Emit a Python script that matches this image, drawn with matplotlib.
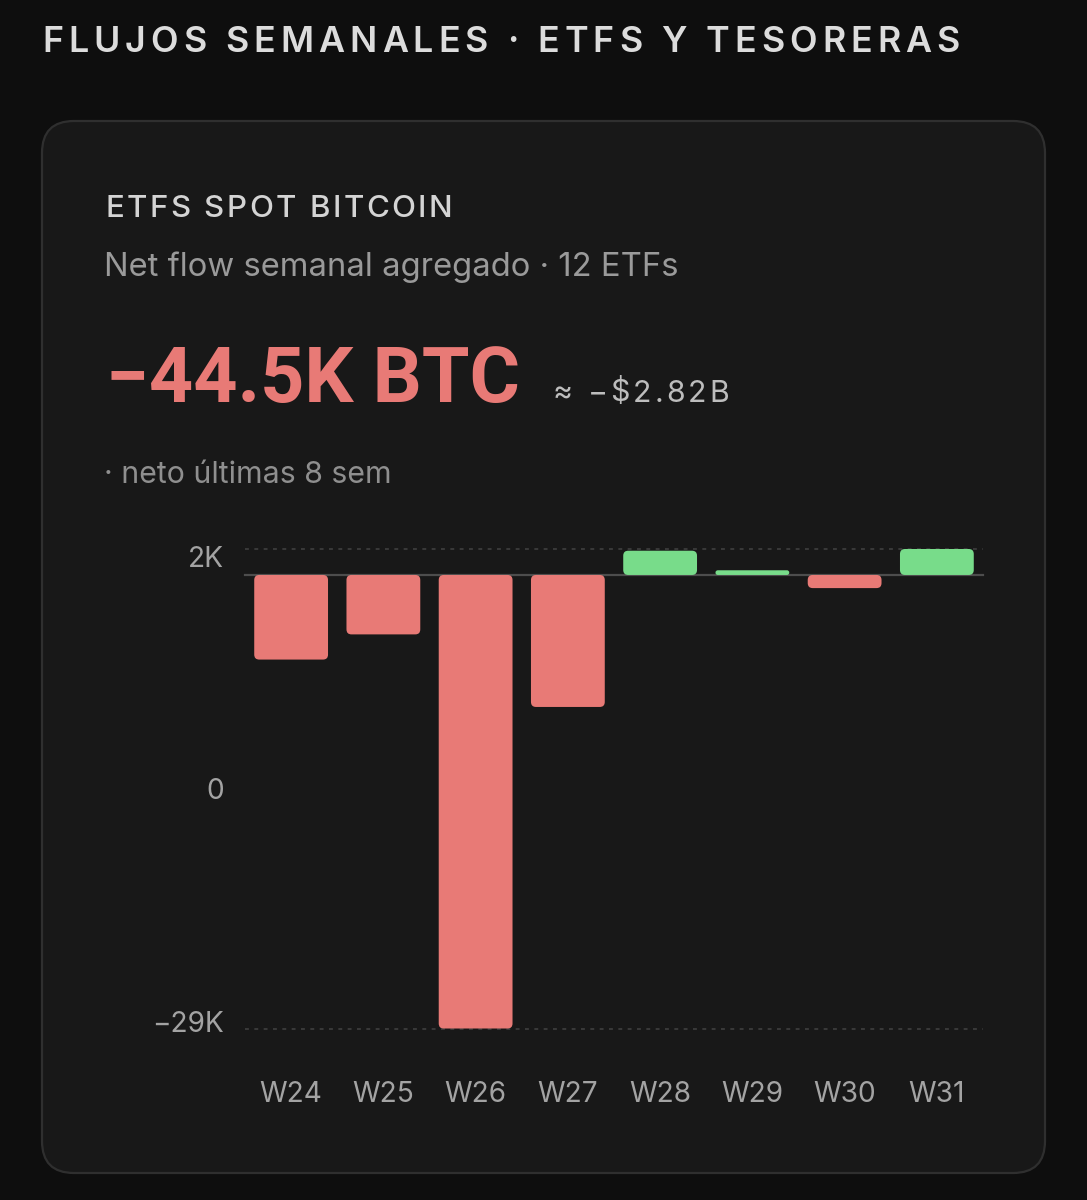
import matplotlib
matplotlib.use("Agg")
import matplotlib.pyplot as plt
from matplotlib.patches import FancyBboxPatch
from matplotlib.font_manager import FontProperties, findfont, get_font

# ---------------- data ----------------
weeks = ["W24", "W25", "W26", "W27", "W28", "W29", "W30", "W31"]
net_flow_k = [-5.41, -3.80, -29.0, -8.44, 1.55, 0.30, -0.84, 1.66]
ytick_labels = ["2K", "0", "\u221229K"]

title = "FLUJOS SEMANALES \u00b7 ETFS Y TESORERAS"
card_title = "ETFS SPOT BITCOIN"
subtitle = "Net flow semanal agregado \u00b7 12 ETFs"
headline = "\u221244.5K BTC"
headline_usd = "\u2248 \u2212$2.82B"
footnote = "\u00b7 neto \u00faltimas 8 sem"

# ---------------- style ----------------
W, H = 1087, 1200
DPI = 100
BG = "#0e0e0e"
CARD = "#181818"
CARD_EDGE = "#2f2f2f"
RED = "#e87a76"
GREEN = "#78dc8a"
FONT = ["Inter", "Roboto", "DejaVu Sans"]
plt.rcParams["font.family"] = FONT

fig = plt.figure(figsize=(W / DPI, H / DPI), dpi=DPI)
fig.patch.set_facecolor(BG)

# pixel-space background axes (1 data unit = 1 pixel, y downwards)
bg = fig.add_axes([0, 0, 1, 1])
bg.set_xlim(0, W)
bg.set_ylim(H, 0)
bg.axis("off")
bg.set_zorder(0)


def tracked_text(ax, x, y, s, track_px, size, weight="normal", family=FONT, **kw):
    """Draw text with extra letter spacing (tracking) in pixel coordinates."""
    prop = FontProperties(family=family, size=size, weight=weight)
    font = get_font(findfont(prop))
    font.set_size(size, DPI)
    cx = x
    for ch in s:
        ax.text(cx, y, ch, fontproperties=prop, ha="left", va="baseline", **kw)
        try:
            adv = font.load_char(ord(ch)).linearHoriAdvance / 65536.0
        except Exception:
            adv = size * DPI / 72.0 * 0.5
        cx += adv + track_px
    return cx


card = FancyBboxPatch((42, 121), 1003, 1052, boxstyle="round,pad=0,rounding_size=32",
                      facecolor=CARD, edgecolor=CARD_EDGE, linewidth=1.6)
bg.add_patch(card)

tracked_text(bg, 42, 52, title, 5.0, 25.8, weight="semibold", color="#dcdcdc")
tracked_text(bg, 105, 217, card_title, 2.5, 22.5, weight="medium", color="#d4d4d4")
bg.text(104, 276, subtitle, color="#9a9a9a", fontsize=23.6, ha="left", va="baseline")
bg.text(106, 402, headline, color=RED, fontsize=55.5, fontweight="bold",
        family=["Roboto", "DejaVu Sans"], ha="left", va="baseline")
tracked_text(bg, 553, 401.5, headline_usd, 3.0, 21.8, color="#bdbdbd")
bg.text(104, 483, footnote, color="#8f8f8f", fontsize=21.8, ha="left", va="baseline")

# ---------------- chart axes ----------------
ax_left, ax_right = 245, 983
ax_top, ax_bot = 549, 1028.5
ax = fig.add_axes([ax_left / W, 1 - ax_bot / H, (ax_right - ax_left) / W, (ax_bot - ax_top) / H])
ax.set_zorder(1)
ax.patch.set_alpha(0)
for s in ax.spines.values():
    s.set_visible(False)
ax.set_xticks([])
ax.set_yticks([])

n = len(weeks)
vmin, vmax = min(net_flow_k), max(net_flow_k)
ax.set_xlim(-0.5, n - 0.5)
ax.set_ylim(vmin, vmax)

px_per_x = (ax_right - ax_left) / n
px_per_y = (ax_bot - ax_top) / (vmax - vmin)
aspect = px_per_x / px_per_y

# gridlines
ax.axhline(vmax, color="#393939", lw=1.4, ls=(0, (2.0, 2.8)), zorder=1, clip_on=False)
ax.axhline(vmin, color="#393939", lw=1.4, ls=(0, (2.0, 2.8)), zorder=1, clip_on=False)
ax.axhline(0, color="#4d4d4d", lw=1.6, zorder=2, clip_on=False)

bar_w = 0.8
r_px = 5.0
for i, v in enumerate(net_flow_k):
    h = abs(v)
    y0 = min(0, v)
    h_px = h * px_per_y
    r = min(r_px, h_px / 2.0, bar_w * px_per_x / 2.0) / px_per_x
    p = FancyBboxPatch((i - bar_w / 2, y0), bar_w, h,
                       boxstyle=f"round,pad=0,rounding_size={r}",
                       mutation_aspect=aspect,
                       facecolor=GREEN if v > 0 else RED, edgecolor="none",
                       zorder=3, clip_on=False)
    ax.add_patch(p)

# y labels: top, middle, bottom
ytick_pos = [vmax, (vmax + vmin) / 2, vmin]
ytick_dy = [-18, -10, -3.4]
for pos, lab, dy in zip(ytick_pos, ytick_labels, ytick_dy):
    ax.annotate(lab, xy=(0, pos), xycoords=("axes fraction", "data"),
                xytext=(-21 * 0.72, dy * 0.72), textcoords="offset points",
                ha="right", va="baseline", color="#a3a3a3", fontsize=20.2,
                annotation_clip=False)

# x labels
for i, wk in enumerate(weeks):
    ax.annotate(wk, xy=(i, 0), xycoords=("data", "axes fraction"),
                xytext=(0, -(1102 - ax_bot) * 0.72), textcoords="offset points",
                ha="center", va="baseline", color="#a3a3a3", fontsize=20.2,
                annotation_clip=False)

fig.savefig("out.png", dpi=DPI, facecolor=BG)
